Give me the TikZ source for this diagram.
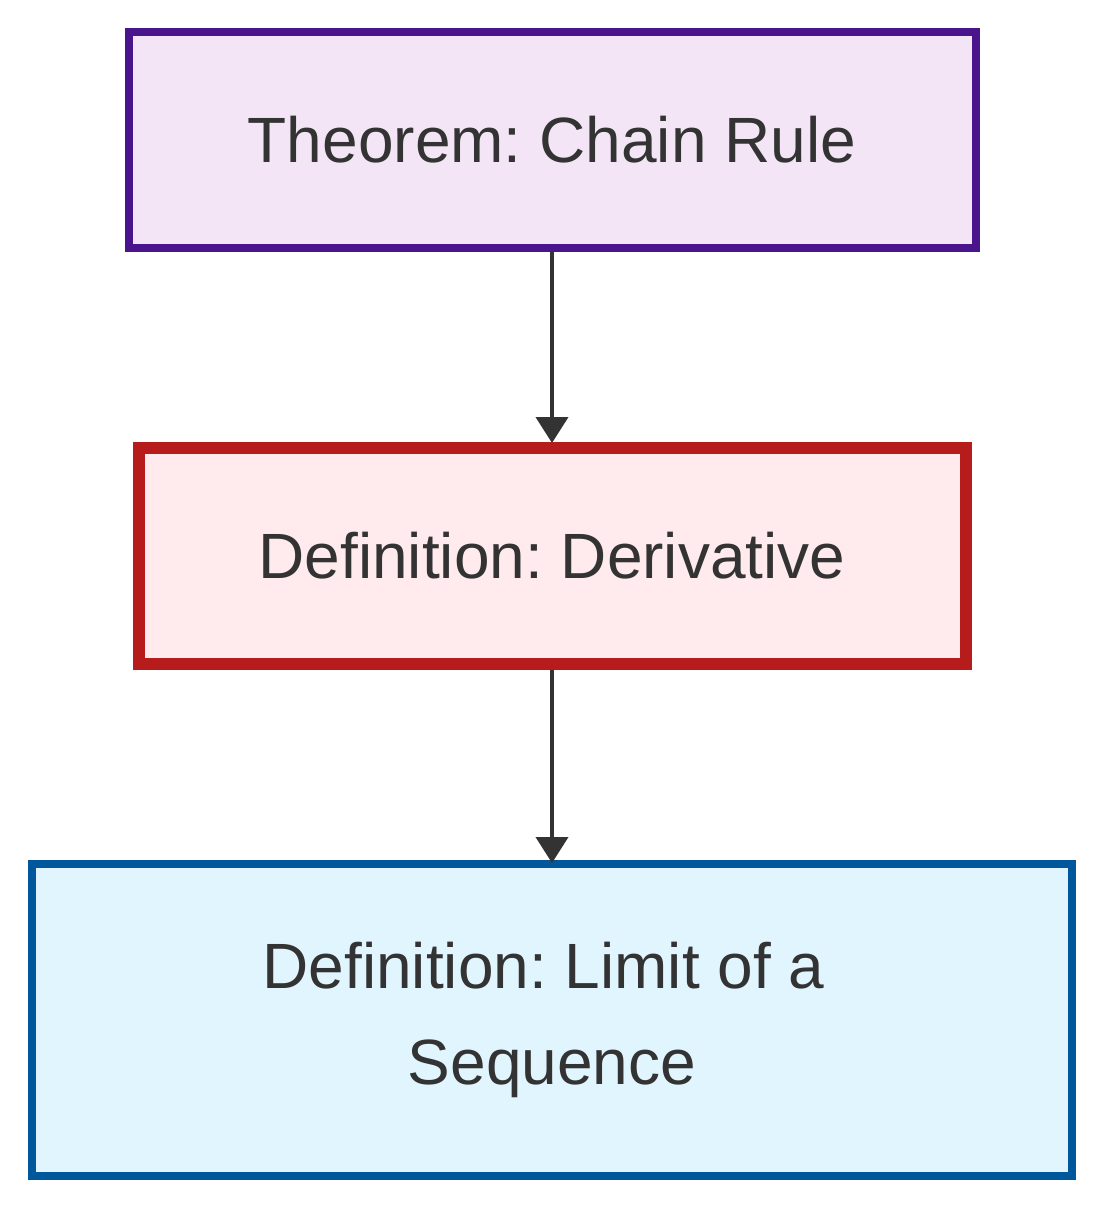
\documentclass[tikz,border=0pt]{standalone}
\usepackage{fontspec}
\setmainfont{Liberation Sans}
\usetikzlibrary{arrows.meta}
\frenchspacing

\definecolor{textgray}{HTML}{333333}
\definecolor{thmdraw}{HTML}{4A148C}
\definecolor{thmfill}{HTML}{F3E5F5}
\definecolor{derdraw}{HTML}{B71C1C}
\definecolor{derfill}{HTML}{FFEBEE}
\definecolor{limdraw}{HTML}{01579B}
\definecolor{limfill}{HTML}{E1F5FE}

\begin{document}
\begin{tikzpicture}[
        x=1pt, y=-1pt,
        box/.style={rectangle, inner sep=0pt, text=textgray, align=center,
            font=\fontsize{64}{96}\selectfont},
        theorem/.style={box, draw=thmdraw, fill=thmfill, line width=8pt},
        derivdef/.style={box, draw=derdraw, fill=derfill, line width=12pt},
        limitdef/.style={box, draw=limdraw, fill=limfill, line width=8pt},
        link/.style={draw=textgray, line width=4pt,
            -{Triangle[length=26pt,width=32pt]}}
    ]

    \useasboundingbox (0,0) rectangle (1104,1208);

    % Theorem
    \node[theorem, minimum width=847pt, minimum height=216pt]
        (chain) at (552,140) {Theorem: Chain Rule};

    % Definition used by the theorem
    \node[derivdef, minimum width=827pt, minimum height=216pt]
        (deriv) at (552,556) {Definition: Derivative};

    % Definition used by the derivative
    \node[limitdef, minimum width=1040pt, minimum height=312pt]
        (limit) at (552,1020) {Definition: Limit of a\kern17pt\\Sequence};

    % Dependencies
    \draw[link, shorten >=-1pt] (chain.south) -- (deriv.north);
    \draw[link, shorten >=-3pt] (deriv.south) -- (limit.north);

\end{tikzpicture}
\end{document}
